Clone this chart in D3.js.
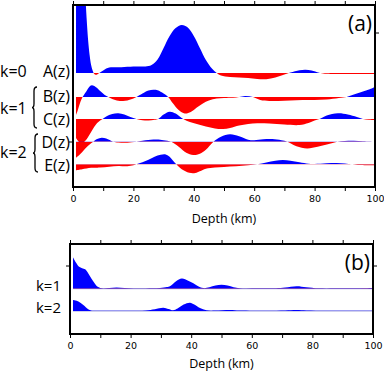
<!DOCTYPE html>
<html><head><meta charset="utf-8">
<script src="https://cdn.jsdelivr.net/npm/d3@7"></script>
<style>body{margin:0;background:#fff}svg{display:block}</style>
</head><body>
<script>
// ---- data: [depth km, amplitude] ----
const traceA = [[1,130],[2,125],[3,110],[4,80],[4.5,55],[5,33],[5.5,18],[6,8],[6.5,2.5],[7,-0.8],[7.5,-1.8],[8,-1.5],[8.7,0],[10,2.5],[11,4.5],[12,5.5],[14,5.7],[16,5.8],[18,6.2],[20,6.5],[22,6.6],[24,6.5],[26,8],[28,13.5],[30,25],[32,37],[34,45],[36,48],[38,45.5],[40,37],[42,25],[44,13],[46,4.5],[47.6,0],[49,-2.5],[52,-4],[55,-4.5],[58,-5],[61,-6],[64,-6.2],[67,-4.5],[70,-1.5],[72,0.5],[75,2.8],[77,3.3],[79,2.5],[81.5,0.3],[84,-0.8],[90,-1],[95,-1],[100,-1]];
const traceB = [[1,-18],[1.5,-14],[2,-9],[2.5,-4.5],[3,-1],[3.5,1.5],[4.5,6],[5.5,10.5],[6.3,11.7],[7.5,10],[9,6],[10.5,2],[11.7,0],[13,-2],[15,-3.8],[16.6,-4],[18,-3.5],[20,-1.5],[21,0],[23,3.5],[25,6.5],[26.6,7.3],[28,6.8],[30,3.5],[31.5,0],[33,-6],[35,-13],[37,-16.5],[39,-15],[41,-10.5],[43,-6.5],[45,-3.5],[47.6,-1.6],[50,-1],[53,-0.8],[55,0],[57,1],[59.6,0],[62,-3],[65,-4],[68,-4],[72,-3.5],[76,-3],[80,-3],[84,-2.5],[88,-1],[90.6,0],[93,2.5],[96,5.5],[98,7.5],[100,10]];
const traceC = [[1,-19],[2,-23],[3,-24],[4,-22],[5,-18],[6,-13],[7,-8],[8,-4],[9,-1.5],[9.8,0],[11,2.5],[13,5],[15,5.7],[17,4.5],[19,2],[21,0],[23,-1.2],[25,-1.5],[27,-0.8],[28.2,0],[30,4.5],[32,7.3],[34,5.5],[36.5,0],[38.7,-3],[41,-5],[44,-7.5],[47,-9.5],[49.7,-10],[52,-9],[55,-6.5],[58,-5],[61,-4.2],[65,-4.5],[70,-5.5],[75,-6],[78,-4],[80,-1.5],[82,0.5],[84,3.5],[87.7,5.7],[91,4.5],[94,2],[96,0],[98,-0.8],[100,-1]];
const traceD = [[1,-16],[2,-13.5],[3,-10.5],[4,-7],[5,-4],[6,-1.5],[6.7,0],[8,2.8],[9.5,4],[11,3.2],[13.3,0],[15,-0.8],[18,-1],[21,0],[24,1.5],[27.7,2.3],[30,1.5],[32.5,0],[35,-5],[37.5,-11],[39.8,-13.3],[42,-12],[44,-8],[46.5,0],[49,5],[52,7.5],[55,5.5],[58,2],[60,1.5],[63,2.5],[66,2.7],[69,1.5],[71,0],[74,-4.5],[77.5,-6.7],[81,-5],[85,-2],[87.5,0],[90,0.8],[93,1],[96,0.5],[100,0]];
const traceE = [[1,-6],[3,-5],[6,-3.5],[9,-3.3],[12,-2.5],[15,-1.8],[18,-2],[20,-1],[21,0],[23,2],[25,4.5],[27,7.5],[29,9.5],[30.5,10],[32,7.5],[33,4],[34.2,0],[36,-5],[38.5,-8.5],[40.5,-8.7],[42,-7],[44,-4.5],[47,-3.3],[50,-2.7],[54,-2],[58,-1],[61,0],[64,1.8],[67,3.6],[69.5,4.2],[72,3.6],[75,2],[78,0.5],[80,0.3],[84,1],[87.3,1.3],[90,0.8],[92.5,0],[95,-0.8],[100,-1]];
const traceK1 = [[1,31.5],[2,26],[3,22],[4,20.5],[5,19.4],[6,15.5],[7,10.5],[8,6],[9,2.2],[10,0.8],[11,0.3],[13,0.8],[15.4,1.3],[18,0.6],[21,0.2],[25,0.3],[29.7,0.7],[32,1.6],[33,2.5],[35,7.5],[36.9,10.3],[39,8],[40.7,5.5],[42,3],[44,0.6],[46,1.5],[48,3.2],[50,4],[52,3.2],[54,1.5],[56,0.5],[62,0.4],[68,0.5],[71,1.2],[74.8,2.5],[78,1.5],[82,0.4],[90,0.4],[95,0.5],[100,0.8]];
const traceK2 = [[1,11],[2.2,10.3],[3.3,8.5],[4.4,6],[5.2,3.8],[6,1.7],[7,0.6],[8,0.3],[12,0.2],[16,0.3],[20,0.2],[25,0.5],[28,1.8],[30.8,3.3],[32.5,2],[34,0.7],[35.5,2.5],[37.5,6.5],[39.6,8.3],[41,6.5],[42.9,3],[45,0.7],[48,0.4],[52.8,1],[56,0.4],[65,0.3],[71,0.6],[74.8,1],[78,0.5],[85,0.3],[100,0.3]];

const depthTicks = [0,10,20,30,40,50,60,70,80,90,100];
const rowsA = [
  {name:"A(z)", data:traceA, slot:0},
  {name:"B(z)", data:traceB, slot:1},
  {name:"C(z)", data:traceC, slot:2},
  {name:"D(z)", data:traceD, slot:3},
  {name:"E(z)", data:traceE, slot:4}
];
const rowsB = [
  {name:"k=1", data:traceK1, slot:0},
  {name:"k=2", data:traceK2, slot:1}
];

const W = 384, H = 372;
const BLUE = "#0000ff", RED = "#ff0000";
const svg = d3.select("body").append("svg").attr("width", W).attr("height", H);
const defs = svg.append("defs");
const FONT = "'Open Sans', sans-serif";

function panel(cfg) {
  const {x0, x1, y0, y1, rows, baseFor, ampPx, id, label} = cfg;
  const x = d3.scaleLinear().domain([0,100]).range([x0, x1]);
  const g = svg.append("g");
  defs.append("clipPath").attr("id", id+"frame")
    .append("rect").attr("x", x0).attr("y", y0).attr("width", x1-x0).attr("height", y1-y0);
  const amp = d3.scaleLinear().domain([0,1]).range([0, ampPx]);
  rows.forEach((r, i) => {
    const base = baseFor(r.slot);
    const yv = v => base - amp(v);
    const area = d3.area().x(d => x(d[0])).y0(base).y1(d => yv(d[1]))
      .curve(d3.curveCatmullRom.alpha(0.5));
    const cu = id+"u"+i, cd = id+"d"+i;
    defs.append("clipPath").attr("id", cu).append("rect")
      .attr("x", x0).attr("y", y0).attr("width", x1-x0).attr("height", base-y0);
    defs.append("clipPath").attr("id", cd).append("rect")
      .attr("x", x0).attr("y", base).attr("width", x1-x0).attr("height", y1-base);
    const gr = g.append("g").attr("clip-path", `url(#${id}frame)`);
    if (cfg.baseline) {
      gr.append("line").attr("x1", x(r.data[0][0])).attr("x2", x1).attr("y1", base).attr("y2", base)
        .attr("stroke", "#7777cc").attr("stroke-width", 0.7);
    }
    gr.append("g").attr("clip-path", `url(#${cu})`).append("path")
      .attr("d", area(r.data)).attr("fill", BLUE);
    gr.append("g").attr("clip-path", `url(#${cd})`).append("path")
      .attr("d", area(r.data)).attr("fill", RED);
  });
  // axes
  const fmt = d => d % 20 === 0 ? d : "";
  const bottom = svg.append("g").attr("transform", `translate(0,${y1})`)
    .call(d3.axisBottom(x).tickValues(depthTicks).tickFormat(fmt).tickSize(4).tickSizeOuter(0).tickPadding(4));
  const top = svg.append("g").attr("transform", `translate(0,${y0})`)
    .call(d3.axisTop(x).tickValues(depthTicks).tickFormat("").tickSize(4).tickSizeOuter(0));
  [bottom, top].forEach(a => {
    a.select(".domain").remove();
    a.selectAll(".tick line").attr("stroke", "#000").attr("stroke-width", 1);
    a.selectAll("text").attr("font-family", "'DejaVu Sans', sans-serif").attr("font-size", 9.5).attr("fill", "#000");
  });
  // side ticks
  (cfg.leftTicks||[]).forEach(t => svg.append("line").attr("x1", x0-4).attr("x2", x0).attr("y1", t).attr("y2", t).attr("stroke","#000"));
  (cfg.rightTicks||[]).forEach(t => svg.append("line").attr("x1", x1).attr("x2", x1+4).attr("y1", t).attr("y2", t).attr("stroke","#000"));
  // frame
  svg.append("rect").attr("x", x0).attr("y", y0).attr("width", x1-x0).attr("height", y1-y0)
    .attr("fill", "none").attr("stroke", "#000").attr("stroke-width", 2);
  svg.append("text").attr("x", (x0+x1)/2).attr("y", y1+cfg.titleDy).attr("text-anchor", "middle")
    .attr("font-family", FONT).attr("font-size", 12.5).text("Depth (km)");
  svg.append("text").attr("x", x1-3).attr("y", y0+19).attr("dy", "0.35em").attr("text-anchor", "end")
    .attr("font-family", FONT).attr("font-size", 21).text(label);
  return x;
}

// panel (a)
const baseA = [73, 97, 119, 141.7, 164.3];
panel({x0:73, x1:375, y0:5, y1:187, rows:rowsA, baseFor:s=>baseA[s], ampPx:1, id:"pa", label:"(a)",
  leftTicks:[142], rightTicks:[33], titleDy:36});
// panel (b)
const baseB = [288.7, 311];
panel({x0:70, x1:373, y0:244, y1:334, rows:rowsB, baseFor:s=>baseB[s], ampPx:1, id:"pb", label:"(b)",
  leftTicks:[266], rightTicks:[266], baseline:true, titleDy:34});

// row labels (a)
const labA = svg.append("g").attr("font-family", FONT).attr("font-size", 16).attr("fill", "#000");
const labY = [71, 96, 119, 142, 165];
rowsA.forEach((r, i) => labA.append("text").attr("x", 70).attr("y", labY[i]).attr("dy", "0.35em")
  .attr("text-anchor", "end").text(r.name));
const groups = [{t:"k=0", y:71}, {t:"k=1", y:108}, {t:"k=2", y:152}];
groups.forEach(gp => labA.append("text").attr("x", 0).attr("y", gp.y).attr("dy", "0.35em").text(gp.t));
// braces
function brace(xr, ya, yb) {
  const xl = xr - 5, ym = (ya+yb)/2;
  const p = d3.path();
  p.moveTo(xr, ya);
  p.quadraticCurveTo(xr-3, ya, xr-3, ya+4);
  p.lineTo(xr-3, ym-4);
  p.quadraticCurveTo(xr-3, ym, xl, ym);
  p.quadraticCurveTo(xr-3, ym, xr-3, ym+4);
  p.lineTo(xr-3, yb-4);
  p.quadraticCurveTo(xr-3, yb, xr, yb);
  svg.append("path").attr("d", p.toString()).attr("fill", "none").attr("stroke", "#000").attr("stroke-width", 1.3);
}
brace(37, 87, 128);
brace(38, 134, 172);

// row labels (b)
const labB = svg.append("g").attr("font-family", FONT).attr("font-size", 15).attr("fill", "#000");
const labBY = [286, 308];
rowsB.forEach((r, i) => labB.append("text").attr("x", 61).attr("y", labBY[i]).attr("dy", "0.35em")
  .attr("text-anchor", "end").text(r.name));
</script>
</body></html>
